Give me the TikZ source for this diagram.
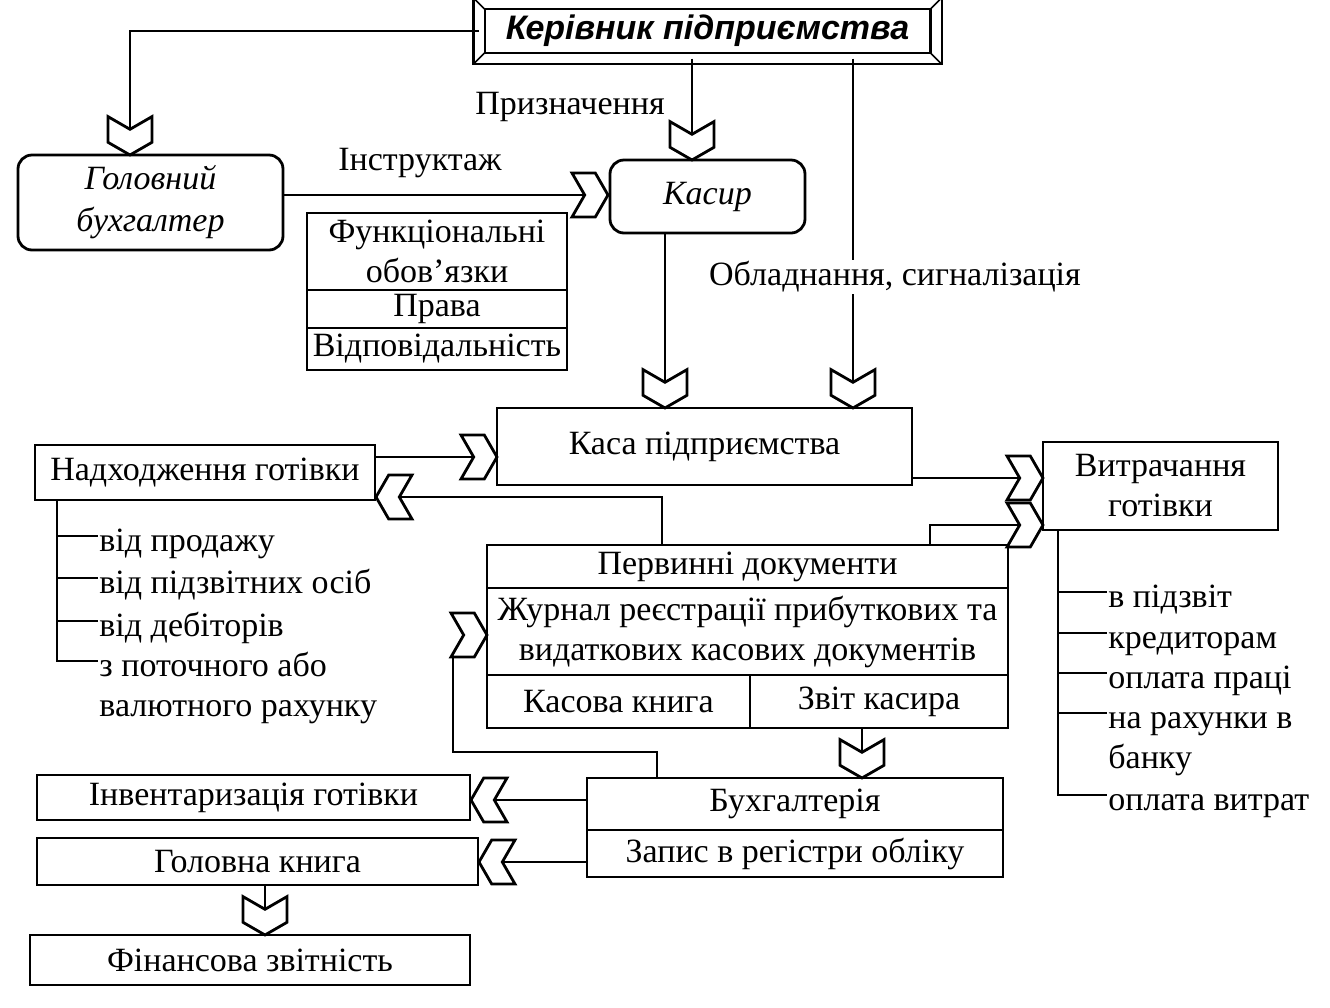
\documentclass[tikz,border=0pt]{standalone}
\usepackage{fontspec}
\setmainfont{Liberation Serif}
\newfontfamily\headfont{Liberation Sans}
\usetikzlibrary{shapes,shapes.symbols,positioning}

\begin{document}
\begin{tikzpicture}[x=0.5pt,y=-0.5pt,line width=1.4pt,font=\fontsize{17}{20}\selectfont]

\tikzstyle{box} = [draw, rectangle, fill=white, inner sep=0pt, outer sep=0pt, align=center]
\tikzstyle{roundbox} = [box, rounded corners=7pt, font={\fontsize{17}{21}\selectfont\itshape}]
\tikzstyle{chevron} = [draw, fill=white, signal, inner sep=0pt, outer sep=0pt, signal pointer angle=120]
\tikzstyle{chevRight} = [chevron, signal from=west, signal to=east, minimum width=18pt, minimum height=22pt, anchor=east]
\tikzstyle{chevLeft} = [chevron, signal from=east, signal to=west, minimum width=18pt, minimum height=22pt, anchor=west]
\tikzstyle{chevDown} = [chevron, signal from=north, signal to=south, minimum width=22pt, minimum height=6.5pt, anchor=south]
\tikzstyle{item} = [inner sep=0pt, anchor=base west]
\tikzstyle{edgeLabel} = [inner sep=1pt];

\useasboundingbox (0,0) rectangle (1330,1008);

% boxes
\node[box, name=boss, double, double distance=4.5pt, line width=1.1pt, minimum width=228.5pt, minimum height=27.5pt, font={\headfont\bfseries\itshape\fontsize{17}{20}\selectfont}] at (707.5,31) {Керівник підприємства};
\foreach \a/\dx/\dy in {north west/-1/1, north east/1/1, south west/-1/-1, south east/1/-1}
  \draw[line width=0.8pt] ([shift={(\dx*2.8pt,\dy*2.8pt)}]boss.\a) -- ([shift={(-\dx*2.8pt,-\dy*2.8pt)}]boss.\a);
\node[roundbox, name=gb, minimum width=132.5pt, minimum height=47.5pt] at (150.5,202.5) {Головний\\бухгалтер};
\node[roundbox, name=kasyr, minimum width=97.5pt, minimum height=36.5pt] at (707.5,196.5) {Касир};

\node[box, name=f1, anchor=north west, minimum width=130pt, minimum height=38.5pt] at (307,213) {Функціональні\\обов’язки};
\node[box, name=f2, below=0pt of f1, minimum width=130pt, minimum height=19pt] {Права};
\node[box, name=f3, below=0pt of f2, minimum width=130pt, minimum height=21pt] {Відповідальність};

\node[box, name=kasa, minimum width=207.5pt, minimum height=38.5pt] at (704.5,446.5) {Каса підприємства};
\node[box, name=nadh, minimum width=170pt, minimum height=27.5pt] at (205,472.5) {Надходження готівки};
\node[box, name=vytr, minimum width=117.5pt, minimum height=44pt] at (1160.5,486) {Витрачання\\готівки};

\node[box, name=p1, anchor=north west, minimum width=260.5pt, minimum height=21.5pt] at (487,545) {Первинні документи};
\node[box, name=p2, below=0pt of p1, minimum width=260.5pt, minimum height=43.5pt] {Журнал реєстрації прибуткових та\\видаткових касових документів};
\node[box, name=p3a, anchor=north west, minimum width=131.5pt, minimum height=26.5pt] at (p2.south west) {Касова книга};
\node[box, name=p3b, right=0pt of p3a, minimum width=129pt, minimum height=26.5pt] {Звіт касира};

\node[box, name=b1, anchor=north west, minimum width=208pt, minimum height=26pt] at (587,778) {Бухгалтерія};
\node[box, name=b2, below=0pt of b1, minimum width=208pt, minimum height=23.5pt] {Запис в регістри обліку};

\node[box, name=inv, minimum width=216.5pt, minimum height=22.5pt] at (253.5,797.5) {Інвентаризація готівки};
\node[box, name=gk, minimum width=220.5pt, minimum height=23.5pt] at (257.5,861.5) {Головна книга};
\node[box, name=fin, minimum width=220pt, minimum height=25pt] at (250,960) {Фінансова звітність};

% chevrons
\node[chevDown, name=cGB] at (130,155) {};
\node[chevDown, name=cKas] at (692,160) {};
\node[chevRight, name=cInstr] at (608,195) {};
\node[chevDown, name=cKasa1] at (665,408) {};
\node[chevDown, name=cKasa2] at (853,408) {};
\node[chevRight, name=cIn] at (497,457) {};
\node[chevLeft, name=cOut] at (376,497) {};
\node[chevRight, name=cV1] at (1043,478) {};
\node[chevRight, name=cV2] at (1043,525) {};
\node[chevRight, name=cJ] at (487,635) {};
\node[chevDown, name=cBuh] at (862,778) {};
\node[chevLeft, name=cInv] at (471,800) {};
\node[chevLeft, name=cGK] at (479,862) {};
\node[chevDown, name=cFin] at (265,935) {};

\coordinate (outTurn) at (662,497);
\coordinate (v2Turn) at (930,525);
\coordinate (buhTurn) at (657,752);
\coordinate (jTurn) at (453,752);
\coordinate (trunkL) at (57,0);
\coordinate (trunkR) at (1058,0);

% connectors
\draw (boss.west) -| (cGB);
\draw (boss.south -| cKas) -- (cKas);
\draw (boss.south -| cKasa2) -- (cKasa2);
\draw (gb.east |- cInstr) -- (cInstr);
\draw (kasyr.south -| cKasa1) -- (cKasa1);
\draw (nadh.east |- cIn) -- (cIn);
\draw (p1.north -| outTurn) -- (outTurn) -- (cOut);
\draw (kasa.east |- cV1) -- (cV1);
\draw (p1.north -| v2Turn) |- (cV2);
\draw (b1.north -| buhTurn) -- (buhTurn) -- (jTurn) -- (cJ.south -| jTurn);
\draw (p3b.south -| cBuh) -- (cBuh);
\draw (b1.west |- cInv) -- (cInv);
\draw (b2.west |- cGK) -- (cGK);
\draw (gk.south -| cFin) -- (cFin);

% labels
\node[edgeLabel, name=lblPryzn] at (570,107) {Призначення};
\node[edgeLabel, name=lblInstr] at (420,163) {Інструктаж};
\node[edgeLabel, name=lblObl, fill=white] at (895,277) {Обладнання, сигналізація};

% income items
\node[item, name=l1] at (98,551) {від продажу};
\node[item, name=l2] at (98,593) {від підзвітних осіб};
\node[item, name=l3] at (98,636) {від дебіторів};
\node[item, name=l4] at (98,676) {з поточного або};
\node[item, name=l5] at (98,716) {валютного рахунку};
\foreach \i in {1,...,4}
  \draw (nadh.south -| trunkL) |- ([yshift=7.5pt]l\i.base west);

% spending items
\node[item, name=r1] at (1107,607) {в підзвіт};
\node[item, name=r2] at (1107,648) {кредиторам};
\node[item, name=r3] at (1107,688) {оплата праці};
\node[item, name=r4] at (1107,728) {на рахунки в};
\node[item, name=r5] at (1107,768) {банку};
\node[item, name=r6] at (1107,810) {оплата витрат};
\foreach \i in {1,2,3,4,6}
  \draw (vytr.south -| trunkR) |- ([yshift=7.5pt]r\i.base west);
\end{tikzpicture}
\end{document}
